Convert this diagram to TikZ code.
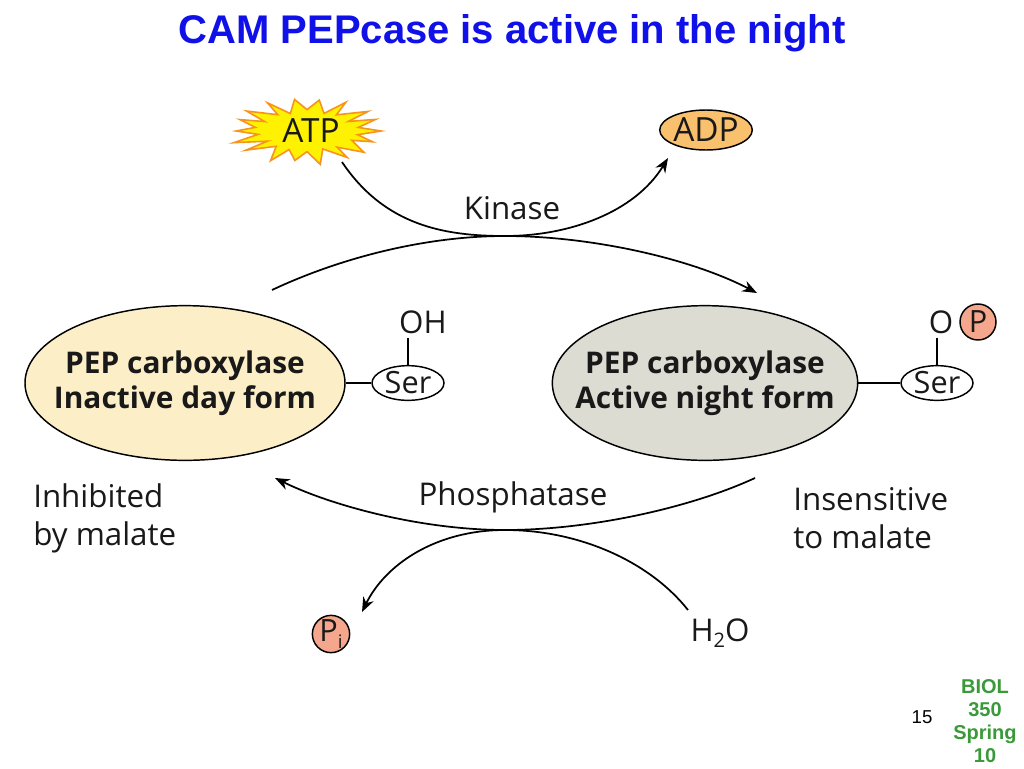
\documentclass[tikz,border=0pt]{standalone}
\usepackage{fontspec}
\setmainfont{Open Sans}
\newfontfamily\arialfont{Liberation Sans}
\usetikzlibrary{arrows.meta,shapes.geometric}
\definecolor{titleblue}{HTML}{1010E8}
\definecolor{biolgreen}{HTML}{3A9A3A}
\definecolor{atpyellow}{HTML}{FFF200}
\definecolor{atporange}{HTML}{F7941D}
\definecolor{adpfill}{HTML}{F9C16E}
\definecolor{dayfill}{HTML}{FCEFC8}
\definecolor{nightfill}{HTML}{DCDCD3}
\definecolor{pfill}{HTML}{F4A78C}
\begin{document}
\begin{tikzpicture}[x=0.75pt,y=-0.75pt,
  lbl/.style={font=\fontsize{23.5}{28.5}\selectfont, inner sep=0pt, text=black!90},
  enz/.style={ellipse, draw, line width=1.1pt, inner sep=0pt, minimum height=116pt},
  enztxt/.style={font=\bfseries\fontsize{22.4}{26.5}\selectfont, align=center, inner sep=0pt, text=black!90},
  serbox/.style={ellipse, draw, line width=1.1pt, minimum width=54pt, minimum height=26pt,
    inner sep=0pt, font=\fontsize{23}{26}\selectfont, text=black!90},
  pcirc/.style={circle, draw, line width=1.1pt, fill=pfill, minimum size=27pt, inner sep=0pt,
    font=\fontsize{23}{26}\selectfont, text=black!90},
  bond/.style={line width=1.1pt},
  conn/.style={line width=1.3pt, -{Stealth[length=11pt,width=8.5pt]}}]
\useasboundingbox (0,0) rectangle (1024,768);
\fill[white] (0,0) rectangle (1024,768);

% title
\node[font=\arialfont\bfseries\fontsize{30}{34}\selectfont, text=titleblue] (title) at (512,33)
  {CAM PEPcase is active in the night};

% ATP starburst
\draw[fill=atpyellow, draw=atporange, line width=1.2pt]
  (381,131) \foreach \i in {1,...,35} {
    -- ({307+(isodd(\i) ? 49 : 75)*cos(\i*360/36)*(1+0.07*sin(\i*137))},
        {131+(isodd(\i) ? 20 : 32)*sin(\i*360/36)*(1+0.07*sin(\i*97))}) } -- cycle;
\node[lbl, font=\fontsize{25}{28}\selectfont] (atp) at (311,131) {ATP};

% ADP
\node[ellipse, draw, fill=adpfill, line width=1.1pt, minimum width=69pt, minimum height=30pt,
  inner sep=0pt, font=\fontsize{25}{28}\selectfont, text=black!90] (adp) at (706,130) {ADP};

% enzymes
\node[enz, fill=dayfill, minimum width=240pt] (day) at (185,383) {};
\node[enztxt] (daytxt) at (day.center) {PEP carboxylase\\Inactive day form};
\node[enz, fill=nightfill, minimum width=229pt] (night) at (705,383) {};
\node[enztxt] (nighttxt) at (night.center) {PEP carboxylase\\Active night form};

\node[serbox] (ser1) at (408,383) {Ser};
\node[serbox] (ser2) at (937,383) {Ser};
\draw[bond] (day.east) -- (ser1.west);
\draw[bond] (night.east) -- (ser2.west);
\node[lbl] (oh) at (423,322) {OH};
\draw[bond] (ser1.north) -- ++(0,-27);
\node[lbl] (o2) at (941,322) {O};
\node[pcirc] (p2) at (978,322) {P};
\draw[bond] (ser2.north) -- ++(0,-27);

% labels
\node[lbl] (kin) at (512,208) {Kinase};
\node[lbl] (pho) at (513,497) {Phosphatase};
\node[lbl, align=left, anchor=west] (inh) at (33,518) {Inhibited\\by malate};
\node[lbl, align=left, anchor=west] (ins) at (793,518) {Insensitive\\to malate};
\node[pcirc] (pi) at (331,634) {P\raisebox{-0.45ex}{\fontsize{14}{14}\selectfont i}};
\node[lbl] (h2o) at (720,633) {H\raisebox{-0.35ex}{\fontsize{15}{15}\selectfont 2}O};

% connector coordinates
\coordinate (top) at (505,236);
\coordinate (bot) at (505,530);
\coordinate (atpout) at (342,162);
\coordinate (adpin) at (668,158);
\coordinate (dayout) at (272,290);
\coordinate (nightin) at (757,293);
\coordinate (nightout) at (755,478);
\coordinate (dayin) at (275,478);
\coordinate (h2oout) at (688,610);
\coordinate (piin) at (362,612);

\draw[conn] (atpout) .. controls (385,226) and (445,236) .. (top)
  .. controls (570,236) and (635,212) .. (adpin);
\draw[conn] (dayout) .. controls (340,258) and (425,236) .. (top)
  .. controls (590,236) and (690,258) .. (nightin);
\draw[conn] (nightout) .. controls (690,508) and (590,530) .. (bot)
  .. controls (420,530) and (330,505) .. (dayin);
\draw[conn] (h2oout) .. controls (650,562) and (580,530) .. (bot)
  .. controls (435,530) and (385,565) .. (piin);

% footer
\node[font=\arialfont\fontsize{14}{16}\selectfont] (page) at (922,717) {15};
\node[font=\arialfont\bfseries\fontsize{15}{17.2}\selectfont, text=biolgreen, align=center]
  (biol) at (985,721) {BIOL\\350\\Spring\\10};
\end{tikzpicture}
\end{document}
